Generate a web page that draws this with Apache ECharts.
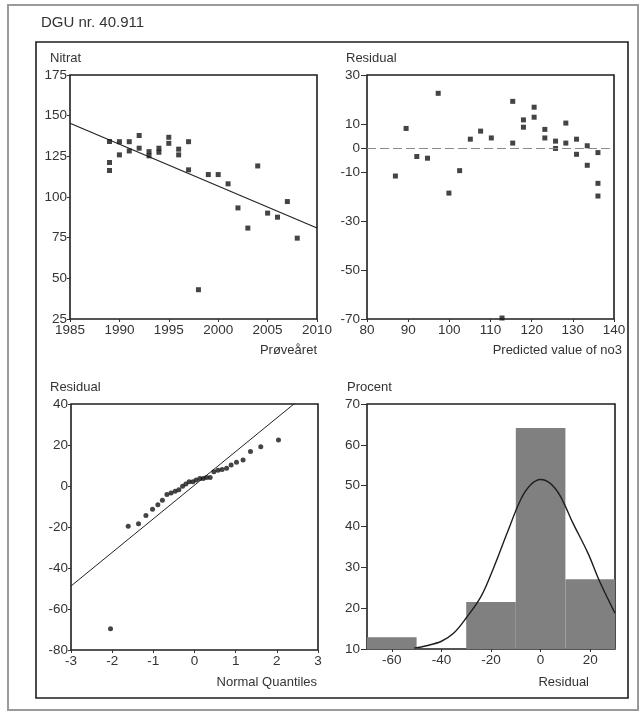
<!DOCTYPE html>
<html>
<head>
<meta charset="utf-8">
<script src="https://cdn.jsdelivr.net/npm/echarts@6/dist/echarts.min.js"></script>
<style>
  html, body { margin: 0; padding: 0; background: #ffffff; }
  #chart { width: 642px; height: 713px; }
</style>
</head>
<body>
<div id="chart"></div>
<script>
// ---------- Data ----------
// Panel 1: Nitrat vs Prøveåret
const years = [1989,1989,1989,1990,1990,1991,1991,1992,1992,1993,1993,1994,1994,1995,1995,1996,1996,1997,1997,1998,1999,2000,2001,2002,2003,2004,2005,2006,2007,2008];
const nitrate = [134.1,121.2,116.3,134,125.9,134,128.3,137.8,130,127.9,125.3,130,127.5,136.7,133,129.4,125.9,134,116.7,43,113.8,113.8,108.1,93.3,80.9,119.1,90.1,87.6,97.2,74.7];
const trendYears = [1985, 2010];
const trendValues = [145.3, 80.9];

// Panel 2: Residual vs Predicted value of no3
const predicted = [136.1,136.1,136.1,133.5,133.5,130.9,130.9,128.3,128.3,125.8,125.8,123.2,123.2,120.6,120.6,118.0,118.0,115.4,115.4,112.8,110.2,107.6,105.1,102.5,99.9,97.3,94.7,92.1,89.5,86.9];
const residual = [-1.8,-14.4,-19.6,1.0,-7.0,3.7,-2.5,10.3,2.1,2.9,-0.1,7.7,4.2,16.8,12.7,11.6,8.6,19.2,2.1,-69.6,4.2,7.0,3.7,-9.2,-18.4,22.5,-4.1,-3.4,8.1,-11.4];
const residualTicks = [-70,-50,-30,-10,0,10,30];

// Panel 3: Residual vs Normal Quantiles
const qqQuantiles = [-2.04,-1.61,-1.36,-1.18,-1.02,-0.89,-0.78,-0.67,-0.57,-0.47,-0.38,-0.29,-0.21,-0.13,-0.04,0.04,0.13,0.21,0.29,0.38,0.47,0.57,0.67,0.78,0.89,1.02,1.18,1.36,1.61,2.04];
const qqResiduals = [-69.6,-19.6,-18.4,-14.4,-11.4,-9.2,-7.0,-4.1,-3.4,-2.5,-1.8,-0.1,1.0,2.1,2.1,2.9,3.7,3.7,4.2,4.2,7.0,7.7,8.1,8.6,10.3,11.6,12.7,16.8,19.2,22.5];
const qqLineX = [-3, 3];
const qqLineY = [-48.8, 49.6];

// Panel 4: Procent histogram of Residual
const binStart = [-70, -30, -10, 10];
const binEnd = [-50, -10, 10, 30];
const binPercent = [12.9, 21.5, 64.1, 27.1];
const histTicks = [-60, -40, -20, 0, 20];
const curveX = [-51,-46,-40,-35,-30,-24,-19,-13.5,-8,-4,0,4,8,13,19,24,30];
const curveY = [10.2,10.8,11.9,13.9,17.6,22.9,29.8,38.4,46.6,50.2,51.5,50.5,47.4,40.9,33.6,26.3,18.8];

// Text
const mainTitle = 'DGU nr. 40.911';

// ---------- Chart ----------
const FONT = '"Liberation Sans", Arial, sans-serif';
const TXT = '#333333';
const chart = echarts.init(document.getElementById('chart'), null, { renderer: 'canvas' });

function zip(a, b) { return a.map((v, i) => [v, b[i]]); }

function gridDef(left, top, width, height) {
  return {
    left: left, top: top, width: width, height: height,
    containLabel: false, outerBoundsMode: 'none',
    show: true, borderColor: '#1e1e1e', borderWidth: 1.6, backgroundColor: '#ffffff'
  };
}

function valAxis(gridIndex, opts, tickLen, margin) {
  return Object.assign({
    type: 'value', gridIndex: gridIndex,
    splitLine: { show: false },
    axisLine: { show: false, onZero: false },
    axisTick: { show: true, length: tickLen, lineStyle: { color: '#333', width: 1 } },
    axisLabel: {
      color: TXT, fontFamily: FONT, fontSize: 13.5, margin: margin,
      showMinLabel: true, showMaxLabel: true, hideOverlap: false,
      formatter: function (v) { return String(v); }
    }
  }, opts);
}

function axisName(text, x, y, align) {
  return {
    type: 'text', x: x, y: y, z: 10,
    style: { text: text, fill: TXT, font: '13px ' + FONT, align: align, verticalAlign: 'middle' }
  };
}

const histX = valAxis(3, { min: -70, max: 30 }, 3, 4);
histX.axisLabel.customValues = histTicks;
histX.axisTick.customValues = histTicks;

const resY = valAxis(1, { min: -70, max: 30 }, 6, 7);
resY.axisLabel.customValues = residualTicks;
resY.axisTick.customValues = residualTicks;

const option = {
  animation: false,
  backgroundColor: '#ffffff',
  grid: [
    gridDef(70, 75, 247, 244),
    gridDef(367, 75, 247, 244),
    gridDef(71, 404, 247, 246),
    gridDef(367, 404, 248, 245)
  ],
  xAxis: [
    valAxis(0, { min: 1985, max: 2010, interval: 5 }, 3, 4),
    valAxis(1, { min: 80, max: 140, interval: 10 }, 3, 4),
    valAxis(2, { min: -3, max: 3, interval: 1 }, 3, 4),
    histX
  ],
  yAxis: [
    valAxis(0, { min: 25, max: 175, interval: 25 }, 3, 3),
    resY,
    valAxis(2, { min: -80, max: 40, interval: 20 }, 3, 3),
    valAxis(3, { min: 10, max: 70, interval: 10 }, 6, 7)
  ],
  series: [
    {
      type: 'line', xAxisIndex: 0, yAxisIndex: 0, data: zip(trendYears, trendValues),
      showSymbol: false, symbol: 'none', lineStyle: { color: '#222', width: 1.2 }, z: 3, clip: true
    },
    {
      type: 'scatter', xAxisIndex: 0, yAxisIndex: 0, data: zip(years, nitrate),
      symbol: 'rect', symbolSize: 5, itemStyle: { color: '#151515' }, z: 4
    },
    {
      type: 'scatter', xAxisIndex: 1, yAxisIndex: 1, data: zip(predicted, residual),
      symbol: 'rect', symbolSize: 5, itemStyle: { color: '#151515' }, z: 4, clip: false,
      markLine: {
        silent: true, symbol: 'none', label: { show: false },
        lineStyle: { color: '#8a8a8a', type: [9, 4], width: 1 },
        data: [{ yAxis: 0 }]
      }
    },
    {
      type: 'line', xAxisIndex: 2, yAxisIndex: 2, data: zip(qqLineX, qqLineY),
      showSymbol: false, symbol: 'none', lineStyle: { color: '#222', width: 1 }, z: 3, clip: true
    },
    {
      type: 'scatter', xAxisIndex: 2, yAxisIndex: 2, data: zip(qqQuantiles, qqResiduals),
      symbol: 'circle', symbolSize: 5, itemStyle: { color: '#151515' }, z: 4
    },
    {
      type: 'custom', xAxisIndex: 3, yAxisIndex: 3,
      data: binStart.map((s, i) => [s, binEnd[i], binPercent[i]]),
      encode: { x: [0, 1], y: 2 },
      renderItem: function (params, api) {
        const p0 = api.coord([api.value(0), api.value(2)]);
        const p1 = api.coord([api.value(1), 10]);
        return {
          type: 'rect',
          shape: { x: p0[0], y: p0[1], width: p1[0] - p0[0], height: p1[1] - p0[1] },
          style: { fill: '#808080' }
        };
      },
      z: 2
    },
    {
      type: 'line', xAxisIndex: 3, yAxisIndex: 3, data: zip(curveX, curveY),
      smooth: 0.35, showSymbol: false, symbol: 'none', lineStyle: { color: '#1e1e1e', width: 1.4 }, z: 4
    }
  ],
  graphic: [
    { type: 'rect', shape: { x: 8, y: 5, width: 630, height: 705 }, style: { fill: 'none', stroke: '#9a9a9a', lineWidth: 2 }, z: 0 },
    { type: 'rect', shape: { x: 36, y: 42, width: 592, height: 656 }, style: { fill: 'none', stroke: '#1e1e1e', lineWidth: 1.6 }, z: 0 },
    { type: 'text', x: 41, y: 23, z: 10, style: { text: mainTitle, fill: TXT, font: '15px ' + FONT, align: 'left', verticalAlign: 'middle' } },
    axisName('Nitrat', 50, 58, 'left'),
    axisName('Prøveåret', 317, 350, 'right'),
    axisName('Residual', 346, 58, 'left'),
    axisName('Predicted value of no3', 622, 350, 'right'),
    axisName('Residual', 50, 387, 'left'),
    axisName('Normal Quantiles', 317, 682, 'right'),
    axisName('Procent', 347, 387, 'left'),
    axisName('Residual', 589, 682, 'right')
  ]
};
chart.setOption(option);
</script>
</body>
</html>
